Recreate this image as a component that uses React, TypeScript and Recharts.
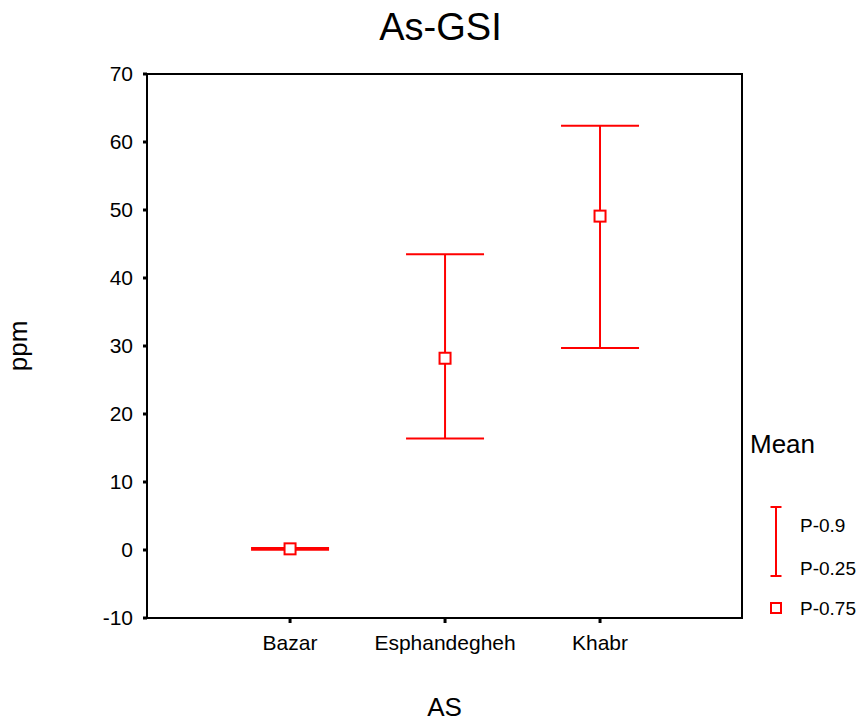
import React from 'react';
import { ComposedChart, Line, ErrorBar, XAxis, YAxis, ReferenceArea } from 'recharts';

// groups along the x axis
const groups = ['Bazar', 'Esphandegheh', 'Khabr'];
// P-0.75 (square marker)
const markValues = [0.17, 28.2, 49.1];
// P-0.25 (lower cap) and P-0.9 (upper cap)
const lowValues = [0.05, 16.4, 29.7];
const highValues = [0.3, 43.5, 62.4];

const yTicks = [-10, 0, 10, 20, 30, 40, 50, 60, 70];
const legendLabels = ['P-0.9', 'P-0.25', 'P-0.75'];

const RED = '#ff0000';
const FONT = '"Liberation Sans", Arial, sans-serif';

// groups sit at positions 1..3 on a numeric axis so the frame can span the whole plot
const data = groups.map((name, i) => ({
  name,
  pos: i + 1,
  mark: markValues[i],
  err: [markValues[i] - lowValues[i], highValues[i] - markValues[i]],
}));
const xTicks = data.map(d => d.pos);

const SquareDot = (p: any) => (
  <rect
    key={`sq-${p.index}`}
    x={p.cx - 5.5}
    y={p.cy - 5.5}
    width={11}
    height={11}
    fill="#fff"
    stroke={RED}
    strokeWidth={2}
  />
);

const App: React.FC = () => {
  return (
    <div style={{ position: 'absolute', left: 0, top: 0, width: 865, height: 724, background: '#fff', fontFamily: FONT }}>
      <ComposedChart
        width={865}
        height={724}
        data={data}
        margin={{ top: 74, right: 123, left: 0, bottom: 0 }}
      >
        {/* plot frame */}
        <ReferenceArea x1={0.077} x2={3.916} y1={-10} y2={70} fill="none" stroke="#000" strokeWidth={2} ifOverflow="visible" />
        <XAxis
          dataKey="pos"
          type="number"
          domain={[0.077, 3.916]}
          ticks={xTicks}
          allowDataOverflow
          tickFormatter={(v: number) => groups[v - 1] ?? ''}
          height={106}
          axisLine={{ stroke: '#000', strokeWidth: 2 }}
          tickLine={{ stroke: '#000', strokeWidth: 3 }}
          tickSize={5}
          tickMargin={12}
          tick={{ fill: '#000', fontSize: 21, fontFamily: FONT }}
          label={{ value: 'AS', position: 'insideBottom', offset: 8, fill: '#000', fontSize: 26, fontFamily: FONT }}
        />
        <YAxis
          type="number"
          domain={[-10, 70]}
          ticks={yTicks}
          width={147}
          allowDataOverflow
          axisLine={{ stroke: '#000', strokeWidth: 2 }}
          tickLine={{ stroke: '#000', strokeWidth: 3 }}
          tickSize={4}
          tickMargin={10}
          tick={{ fill: '#000', fontSize: 21, fontFamily: FONT }}
          label={(props: any) => {
            const vb = props.viewBox || { x: 0, y: 74, width: 147, height: 544 };
            const cx = vb.x + 18;
            const cy = vb.y + vb.height / 2;
            return (
              <text
                x={cx}
                y={cy}
                transform={`rotate(-90 ${cx} ${cy})`}
                textAnchor="middle"
                dy="0.36em"
                fill="#000"
                fontSize={26}
                fontFamily={FONT}
              >
                ppm
              </text>
            );
          }}
        />
        <Line
          dataKey="mark"
          stroke="none"
          isAnimationActive={false}
          dot={SquareDot}
          activeDot={false}
        >
          <ErrorBar dataKey="err" direction="y" width={39} stroke={RED} strokeWidth={2} isAnimationActive={false} />
        </Line>
      </ComposedChart>

      <svg width={865} height={724} style={{ position: 'absolute', left: 0, top: 0, pointerEvents: 'none' }}>
        <text x={440.5} y={40} textAnchor="middle" fontSize={38} fontFamily={FONT} fill="#000">
          As-GSI
        </text>
        <text x={750} y={453} fontSize={26} fontFamily={FONT} fill="#000">
          Mean
        </text>
        <g stroke={RED} strokeWidth={2}>
          <line x1={776} y1={507} x2={776} y2={576} />
          <line x1={770.5} y1={507} x2={781.5} y2={507} />
          <line x1={770.5} y1={576} x2={781.5} y2={576} />
        </g>
        <rect x={771} y={603} width={10} height={10} fill="#fff" stroke={RED} strokeWidth={2} />
        <text x={800} y={532} fontSize={19} fontFamily={FONT} fill="#000">{legendLabels[0]}</text>
        <text x={800} y={575} fontSize={19} fontFamily={FONT} fill="#000">{legendLabels[1]}</text>
        <text x={800} y={615} fontSize={19} fontFamily={FONT} fill="#000">{legendLabels[2]}</text>
      </svg>
    </div>
  );
};

export default App;
